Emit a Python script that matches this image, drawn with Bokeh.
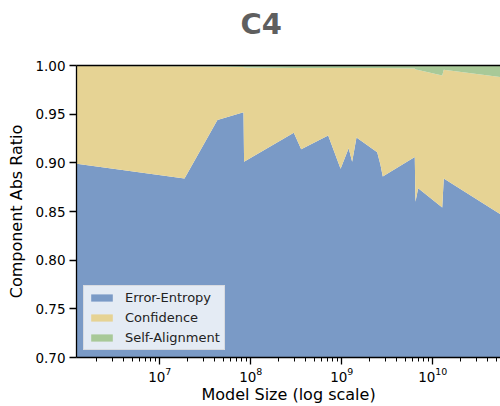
from bokeh.plotting import figure
from bokeh.models import (ColumnDataSource, Range1d, FixedTicker, LogAxis,
                          CustomJSTickFormatter, Title)
from bokeh.embed import file_html
from bokeh.resources import INLINE

# ---- data ----
model_size = [1.22e6, 1.87e7, 4.30e7, 8.32e7, 8.44e7, 2.97e8, 3.58e8, 7.09e8,
              9.70e8, 1.19e9, 1.30e9, 1.45e9, 2.45e9, 2.66e9, 2.82e9, 6.34e9,
              6.45e9, 6.91e9, 1.27e10, 1.32e10, 5.55e10]
error_entropy = [0.899, 0.884, 0.944, 0.952, 0.901, 0.931, 0.914, 0.928,
                 0.894, 0.915, 0.901, 0.926, 0.911, 0.898, 0.886, 0.906,
                 0.860, 0.874, 0.854, 0.884, 0.847]
confidence = [0.1005, 0.1152, 0.0550, 0.0465, 0.0970, 0.0665, 0.0835, 0.0695,
              0.1035, 0.0825, 0.0965, 0.0715, 0.0865, 0.0995, 0.1115, 0.0910,
              0.1360, 0.1215, 0.1358, 0.1116, 0.1410]
self_alignment = [0.0005, 0.0008, 0.0010, 0.0015, 0.0020, 0.0025, 0.0025,
                  0.0025, 0.0025, 0.0025, 0.0025, 0.0025, 0.0025, 0.0025,
                  0.0025, 0.0030, 0.0040, 0.0045, 0.0102, 0.0044, 0.0120]
series_names = ["Error-Entropy", "Confidence", "Self-Alignment"]
series_colors = ["#7a9ac6", "#e6d394", "#a8c998"]
y_ticks = [0.70, 0.75, 0.80, 0.85, 0.90, 0.95, 1.00]

FONT = "DejaVu Sans"

src = ColumnDataSource(dict(x=model_size, ee=error_entropy,
                            conf=confidence, sa=self_alignment))

p = figure(width=500, height=406, output_backend="svg", toolbar_location=None,
           x_axis_type="log",
           x_range=Range1d(10 ** 6.085, 10 ** 10.744),
           y_range=Range1d(0.70, 1.00),
           min_border_left=76, min_border_right=0, min_border_top=65,
           min_border_bottom=48)

p.varea_stack(["ee", "conf", "sa"], x="x", source=src, color=series_colors,
              legend_label=series_names)

p.grid.visible = False
p.outline_line_color = None
p.background_fill_color = "white"

# axes
for ax in (p.xaxis[0], p.yaxis[0]):
    ax.axis_line_color = "black"
    ax.axis_line_width = 1.3
    ax.major_tick_line_color = "black"
    ax.major_tick_line_width = 1.3
    ax.major_tick_out = 7
    ax.major_tick_in = 0
    ax.major_label_text_font = FONT
    ax.major_label_text_font_size = "13.5px"
    ax.major_label_text_color = "black"
    ax.axis_label_text_font = FONT
    ax.axis_label_text_font_size = "16px"
    ax.axis_label_text_font_style = "normal"
    ax.axis_label_text_color = "black"

p.xaxis.axis_label = "Model Size (log scale)"
p.xaxis.minor_tick_line_color = "black"
p.xaxis.minor_tick_line_width = 1.0
p.xaxis.minor_tick_out = 4
p.xaxis.minor_tick_in = 0
p.xaxis.major_label_standoff = 2
p.xaxis.axis_label_standoff = 0

p.yaxis.axis_label = "Component Abs Ratio"
p.yaxis.ticker = FixedTicker(ticks=y_ticks)
p.yaxis.formatter = CustomJSTickFormatter(code="return tick.toFixed(2);")
p.yaxis.minor_tick_line_color = None
p.yaxis.major_label_standoff = 4
p.yaxis.axis_label_standoff = 6

# top spine: an axis with one invisible tick whose length reserves the gap
# between the frame and the title (added first, so it sits next to the frame)
top = LogAxis(ticker=FixedTicker(ticks=[1e8]), axis_line_color="black",
              axis_line_width=1.3, major_tick_out=25, major_tick_in=0,
              major_tick_line_color=None, minor_tick_line_color=None,
              minor_tick_out=0, minor_tick_in=0, major_label_standoff=0,
              major_label_text_font_size="0px",
              formatter=CustomJSTickFormatter(code="return '';"))
p.add_layout(top, "above")

# title
p.add_layout(Title(text="C4", text_font=FONT, text_font_size="29px",
                   text_font_style="bold", text_color="#5f5f5f",
                   align="left", offset=164, standoff=0,
                   vertical_align="bottom"), "above")

# legend
lg = p.legend[0]
lg.location = "bottom_left"
lg.margin = 7
lg.padding = 4
lg.spacing = 5
lg.label_height = 15
lg.glyph_height = 9
lg.glyph_width = 27
lg.label_standoff = 10
lg.label_text_font = FONT
lg.label_text_font_size = "13px"
lg.label_text_color = "#222222"
lg.background_fill_color = "white"
lg.background_fill_alpha = 0.8
lg.border_line_color = "#cccccc"
lg.border_line_width = 1

open("out.html", "w").write(file_html(p, INLINE))
